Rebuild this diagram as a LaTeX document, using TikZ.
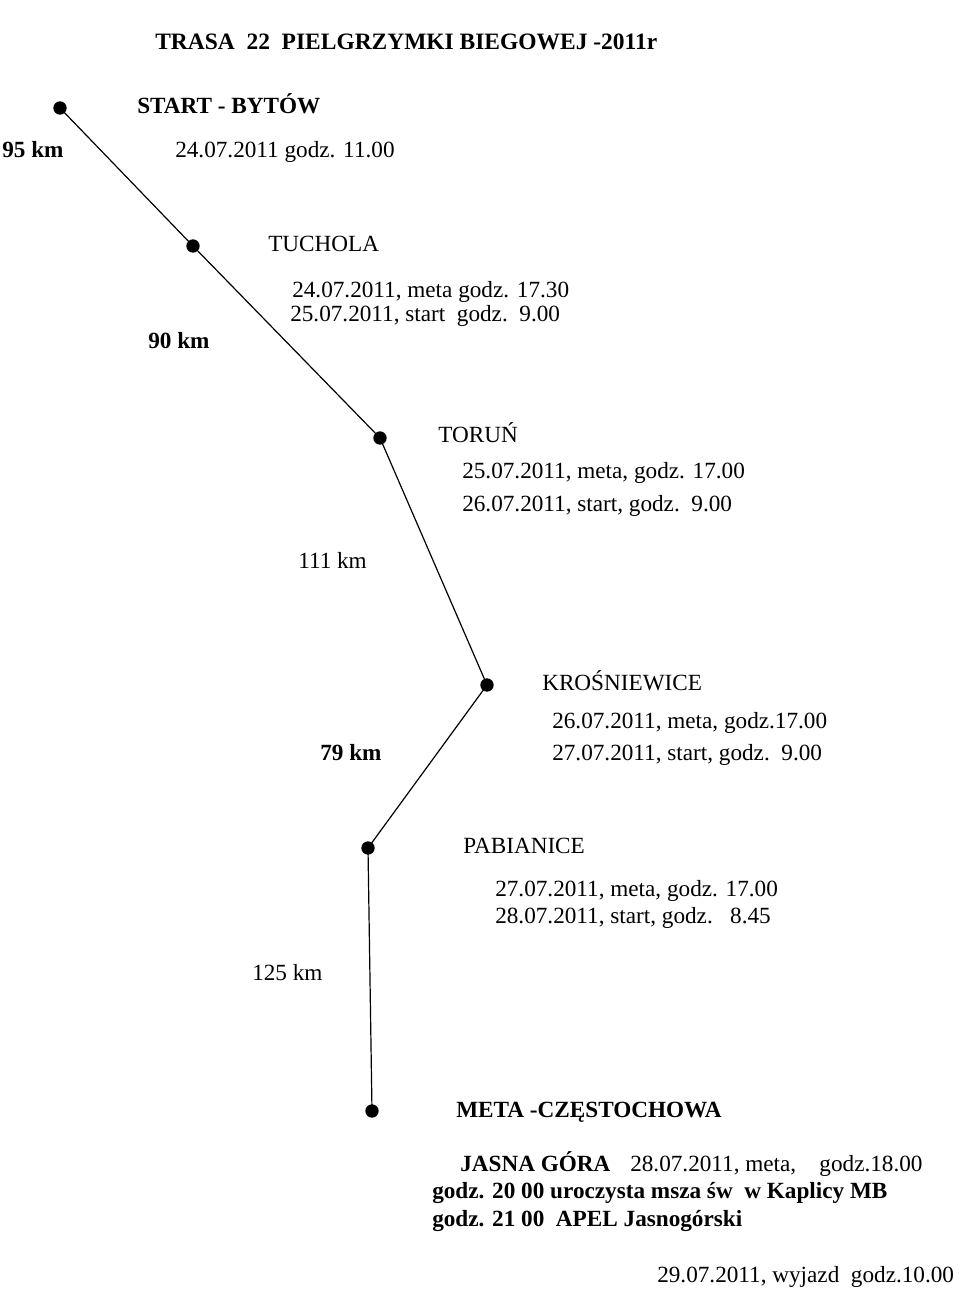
\documentclass[tikz,border=0pt]{standalone}
\usepackage{fontspec}
\setmainfont{Liberation Serif}
\begin{document}
\begin{tikzpicture}[x=0.75pt,y=-0.75pt,
  lbl/.style={anchor=west,inner sep=0pt,text height=12pt,text depth=3.5pt,font=\fontsize{17.4}{19}\selectfont},
  blbl/.style={lbl,font=\fontsize{17.4}{19}\selectfont\bfseries},
  dot/.style={circle,fill=black,inner sep=0pt,minimum size=10pt}]
\useasboundingbox (0,0) rectangle (960,1293);
\node[anchor=west,inner sep=0pt,font=\fontsize{17.6}{19}\selectfont\bfseries] (title) at (155,42) {TRASA\ \ 22\ \ PIELGRZYMKI BIEGOWEJ -2011r};
\node[dot] (d1) at (60,108) {};
\node[dot] (d2) at (193,246) {};
\node[dot] (d3) at (380,438) {};
\node[dot] (d4) at (487,685) {};
\node[dot] (d5) at (368,848) {};
\node[dot] (d6) at (372,1111) {};
\draw[line width=0.9pt] (d1.center) -- (d2.center) -- (d3.center) -- (d4.center) -- (d5.center) -- (d6.center);
\node[blbl] (t1) at (137,108) {START - BYTÓW};
\node[blbl] (k1) at (2,152) {95 km};
\node[lbl] (t1a) at (175,152) {24.07.2011 godz. 11.00};
\node[lbl] (t2) at (268,246) {TUCHOLA};
\node[lbl] (t2a) at (292,292) {24.07.2011, meta godz. 17.30};
\node[lbl] (t2b) at (290,316) {25.07.2011, start\ \ godz.\ \ 9.00};
\node[blbl] (k2) at (148,343) {90 km};
\node[lbl] (t3) at (438,437) {TORUŃ};
\node[lbl] (t3a) at (462,473) {25.07.2011, meta, godz. 17.00};
\node[lbl] (t3b) at (462,506) {26.07.2011, start, godz.\ \ 9.00};
\node[lbl] (k3) at (298,563) {111 km};
\node[lbl] (t4) at (542,685) {KROŚNIEWICE};
\node[lbl] (t4a) at (552,723) {26.07.2011, meta, godz.17.00};
\node[blbl] (k4) at (320,755) {79 km};
\node[lbl] (t4b) at (552,755) {27.07.2011, start, godz.\ \ 9.00};
\node[lbl] (t5) at (463,848) {PABIANICE};
\node[lbl] (t5a) at (495,891) {27.07.2011, meta, godz. 17.00};
\node[lbl] (t5b) at (495,918) {28.07.2011, start, godz.\ \ \ 8.45};
\node[lbl] (k5) at (252,975) {125 km};
\node[blbl] (t6) at (456,1112) {META -CZĘSTOCHOWA};
\node[blbl] (t6a) at (460,1166) {JASNA GÓRA};
\node[lbl] (t6b) at (630,1166) {28.07.2011, meta,\ \ \ \ godz.18.00};
\node[blbl] (t6c) at (432,1193) {godz. 20 00 uroczysta msza św\ \ w Kaplicy MB};
\node[blbl] (t6d) at (432,1221) {godz. 21 00\ \ APEL Jasnogórski};
\node[lbl] (t6e) at (657,1277) {29.07.2011, wyjazd\ \ godz.10.00};
\end{tikzpicture}
\end{document}
